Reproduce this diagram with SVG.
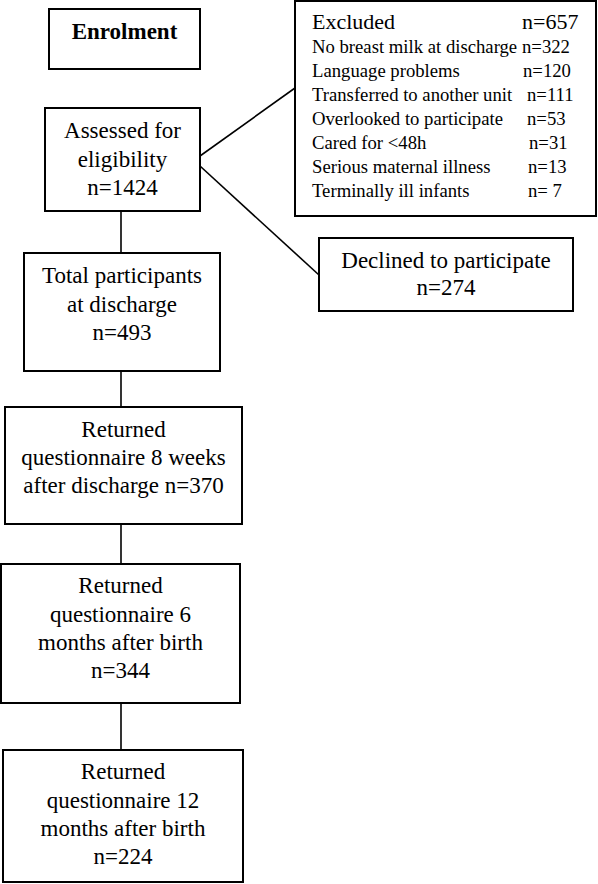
<svg xmlns="http://www.w3.org/2000/svg" width="598" height="884" viewBox="0 0 598 884">
<style>
rect{fill:#fff;stroke:#000;stroke-width:2}
.c line{stroke:#000;stroke-width:1.6}
text{font-family:"Liberation Serif","Times New Roman",serif;fill:#000}
.m{font-family:"Liberation Serif","Times New Roman",serif;font-size:23px;text-anchor:middle}
.s{font-family:"Liberation Serif","Times New Roman",serif;font-size:18.7px}
</style>
<rect x="0" y="0" width="598" height="884" style="stroke:none"/>
<g class="c" id="connectors">
<line x1="121" y1="211" x2="121" y2="253"/>
<line x1="121" y1="371" x2="121" y2="407"/>
<line x1="121" y1="524" x2="121" y2="564"/>
<line x1="121" y1="703" x2="121" y2="750"/>
<line x1="200" y1="156" x2="295" y2="88"/>
<line x1="200" y1="166" x2="319" y2="275"/>
</g>
<g font-family="Liberation Serif, Times New Roman, serif">
<g id="enrolment">
<rect x="49" y="9" width="151" height="60"/>
<text x="124.5" y="39" class="m" font-family="Liberation Serif, serif" style="font-weight:bold;font-size:23px">Enrolment</text>
</g>
<g id="assessed">
<rect x="45" y="108" width="155" height="103"/>
<text class="m" font-family="Liberation Serif, serif" x="122.5" y="138">Assessed for</text>
<text class="m" font-family="Liberation Serif, serif" x="122.5" y="167">eligibility</text>
<text class="m" font-family="Liberation Serif, serif" x="122.5" y="195">n=1424</text>
</g>
<g id="excluded">
<rect x="295" y="1" width="301" height="215"/>
<text x="312" y="29" style="font-size:22px">Excluded</text>
<text x="522" y="29" style="font-size:22px">n=657</text>
<text class="s" x="312" y="53">No breast milk at discharge</text><text class="s" x="522" y="53">n=322</text>
<text class="s" x="312" y="77">Language problems</text><text class="s" x="523" y="77">n=120</text>
<text class="s" x="312" y="101">Transferred to another unit</text><text class="s" x="527" y="101">n=111</text>
<text class="s" x="312" y="125">Overlooked to participate</text><text class="s" x="527" y="125">n=53</text>
<text class="s" x="312" y="149">Cared for &lt;48h</text><text class="s" x="529" y="149">n=31</text>
<text class="s" x="312" y="173">Serious maternal illness</text><text class="s" x="528" y="173">n=13</text>
<text class="s" x="312" y="197">Terminally ill infants</text><text class="s" x="528" y="197">n= 7</text>
</g>
<g id="declined">
<rect x="319" y="238" width="254" height="73"/>
<text class="m" font-family="Liberation Serif, serif" x="446" y="268">Declined to participate</text>
<text class="m" font-family="Liberation Serif, serif" x="446" y="295">n=274</text>
</g>
<g id="total">
<rect x="24" y="253" width="196" height="118"/>
<text class="m" font-family="Liberation Serif, serif" x="122" y="283">Total participants</text>
<text class="m" font-family="Liberation Serif, serif" x="122" y="312">at discharge</text>
<text class="m" font-family="Liberation Serif, serif" x="122" y="340">n=493</text>
</g>
<g id="weeks8">
<rect x="5" y="407" width="237" height="117"/>
<text class="m" font-family="Liberation Serif, serif" x="123.5" y="437">Returned</text>
<text class="m" font-family="Liberation Serif, serif" x="123.5" y="465">questionnaire 8 weeks</text>
<text class="m" font-family="Liberation Serif, serif" x="123.5" y="493">after discharge n=370</text>
</g>
<g id="months6">
<rect x="1" y="564" width="239" height="139"/>
<text class="m" font-family="Liberation Serif, serif" x="120.5" y="593">Returned</text>
<text class="m" font-family="Liberation Serif, serif" x="120.5" y="622">questionnaire 6</text>
<text class="m" font-family="Liberation Serif, serif" x="120.5" y="650">months after birth</text>
<text class="m" font-family="Liberation Serif, serif" x="120.5" y="678">n=344</text>
</g>
<g id="months12">
<rect x="3" y="750" width="240" height="132"/>
<text class="m" font-family="Liberation Serif, serif" x="123" y="779">Returned</text>
<text class="m" font-family="Liberation Serif, serif" x="123" y="808">questionnaire 12</text>
<text class="m" font-family="Liberation Serif, serif" x="123" y="836">months after birth</text>
<text class="m" font-family="Liberation Serif, serif" x="123" y="864">n=224</text>
</g>
</g>
</svg>
